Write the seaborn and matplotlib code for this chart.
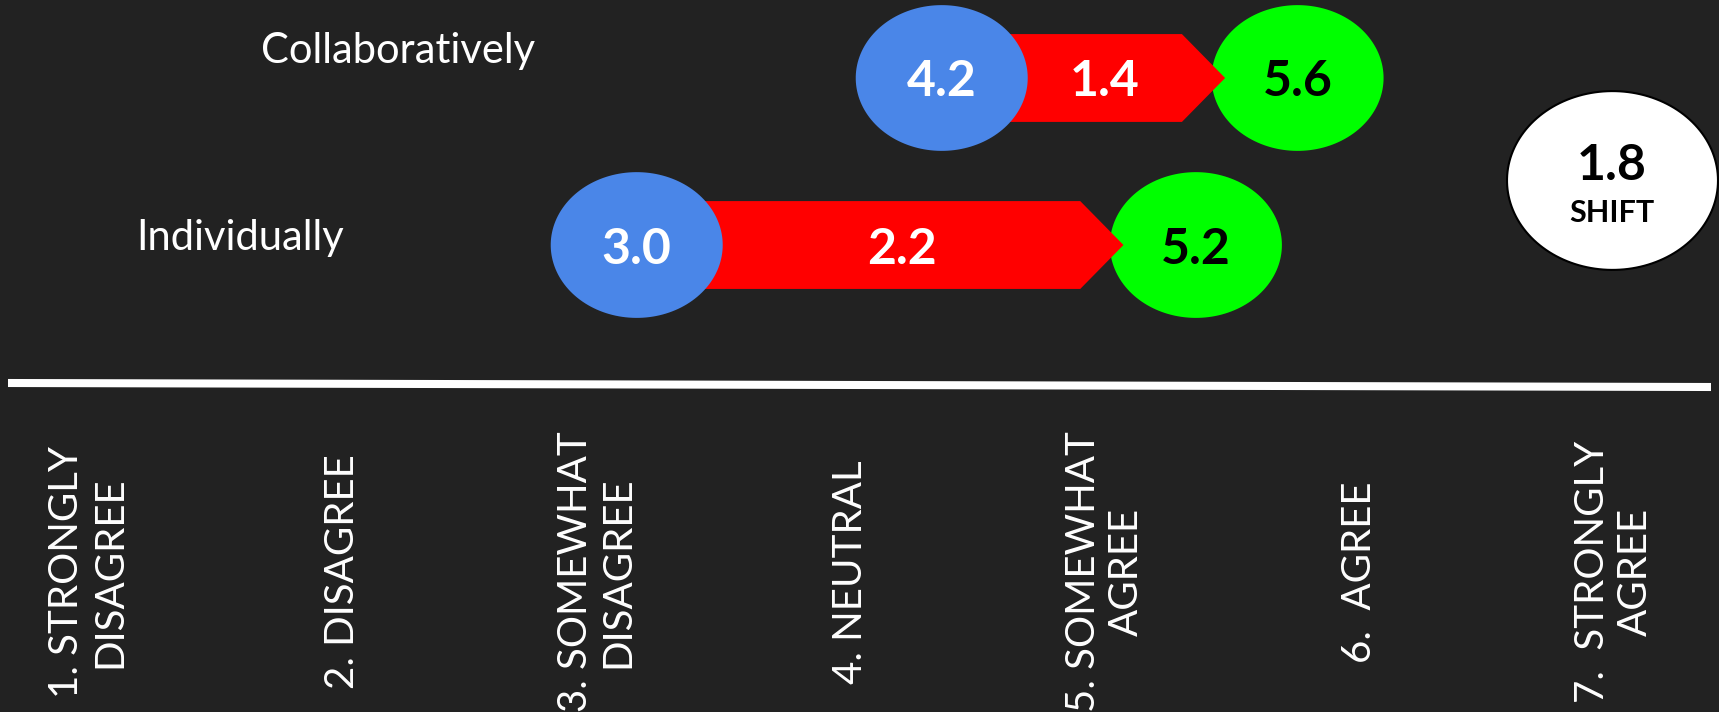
import numpy as np
import pandas as pd
import matplotlib
matplotlib.use('Agg')
import matplotlib.pyplot as plt
from matplotlib.path import Path
import seaborn as sns

# agreement scores on a 1-7 scale, before / after the session
groups = ['Individually', 'Collaboratively']
rows = [1, 2]
before = [3.0, 4.2]
after = [5.2, 5.6]
shift = [2.2, 1.4]
avg_shift = 1.8

scale_levels = [1, 2, 3, 4, 5, 6, 7]
scale_labels = ['1. STRONGLY\nDISAGREE', '2. DISAGREE', '3. SOMEWHAT\nDISAGREE',
                '4. NEUTRAL', '5. SOMEWHAT\nAGREE', '6.  AGREE', '7.  STRONGLY\nAGREE']

df = pd.DataFrame({'group': groups, 'row': rows, 'before': before,
                   'after': after, 'shift': shift})

###############################################################
bg = '#222222'
blue = '#4a86e8'
red = '#ff0000'
green = '#00ff00'

sns.set_theme(style='dark', rc={'axes.facecolor': bg, 'figure.facecolor': bg})
plt.rcParams['font.family'] = ['Lato', 'DejaVu Sans']

fig = plt.figure(figsize=(17.19, 7.12), dpi=100)
ax = fig.add_axes([0, 0, 1, 1])
ax.set_xlim(0.495, 7.258)
ax.set_ylim(-1.796, 2.467)
ax.axis('off')

# oval marker (a bit wider than tall)
t = np.linspace(0, 2 * np.pi, 160)
oval = Path(np.column_stack([1.18 * np.cos(t), np.sin(t)]), closed=True)
bubble = (172 * 0.72) ** 2

sns.scatterplot(data=df, x='after', y='row', marker=oval, s=bubble, color=green,
                linewidth=0, edgecolor='none', ax=ax, zorder=2, legend=False)
sns.scatterplot(data=df, x='before', y='row', marker=oval, s=bubble, color=blue,
                linewidth=0, edgecolor='none', ax=ax, zorder=4, legend=False)

num_kw = dict(fontsize=36, fontweight='bold', ha='center', va='center_baseline', zorder=5)

# red arrows from before to after
bh = 0.263
head = 0.17
gap = 0.285
for _, r in df.iterrows():
    y = r['row']
    tip = r['after'] - gap
    neck = tip - head
    ax.fill([r['before'], neck, tip, neck, r['before']],
            [y - bh, y - bh, y, y + bh, y + bh], color=red, lw=0, zorder=3)
    mid = (r['before'] + 0.338 + neck) / 2
    ax.text(mid, y, f"{r['shift']:.1f}", color='white', **num_kw)
    ax.text(r['before'], y, f"{r['before']:.1f}", color='white', **num_kw)
    ax.text(r['after'], y, f"{r['after']:.1f}", color='black', **num_kw)

# row names
ax.text(2.063, 2.183, groups[1], color='white', fontsize=30, fontweight='normal',
        ha='center', va='center_baseline')
ax.text(1.440, 1.063, groups[0], color='white', fontsize=30, fontweight='normal',
        ha='center', va='center_baseline')

# average shift badge
sx, sy = 6.837, 1.389
ax.scatter([sx], [sy], marker=oval, s=(211 * 0.72) ** 2, color='white',
           edgecolor='black', linewidth=1.5, zorder=4)
ax.text(sx, sy + 0.114, f'{avg_shift:.1f}', color='black', fontsize=36,
        fontweight='bold', ha='center', va='center_baseline', zorder=5)
ax.text(sx, sy - 0.185, 'SHIFT', color='black', fontsize=22,
        fontweight='bold', ha='center', va='center_baseline', zorder=5)

# scale axis
ax.plot([8 / 1719, 1711 / 1719], [1 - 383 / 712, 1 - 387 / 712], color='white',
        lw=5.8, solid_capstyle='butt', transform=ax.transAxes)
for lvl, lab in zip(scale_levels, scale_labels):
    ax.text(lvl - 0.157, -0.958, lab, color='white', fontsize=29, fontweight='normal',
            rotation=90, ha='center', va='center', multialignment='center',
            linespacing=1.2)

plt.savefig('out.png', dpi=100, facecolor=bg)
